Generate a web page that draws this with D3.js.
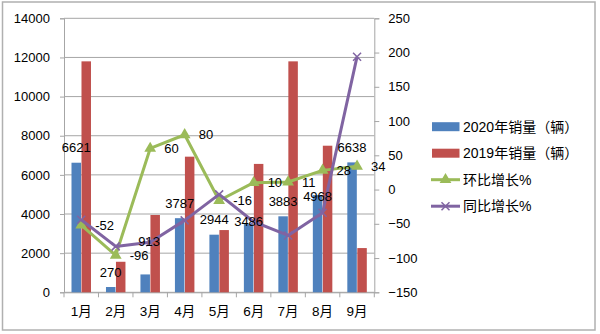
<!DOCTYPE html>
<html><head><meta charset="utf-8">
<script src="https://cdn.jsdelivr.net/npm/d3@7"></script>
<style>
html,body{margin:0;padding:0;background:#fff;}
svg{display:block;font-family:"Liberation Sans","Noto Sans CJK SC",sans-serif;}
</style></head>
<body>
<svg id="c" width="600" height="334"></svg>
<script>
const categories = ["1月","2月","3月","4月","5月","6月","7月","8月","9月"];
const sales2020 = [6621, 270, 913, 3787, 2944, 3486, 3883, 4968, 6638];
const sales2019 = [11800, 1560, 3950, 6930, 3180, 6560, 11800, 7490, 2260];
const momGrowth = [-52, -96, 60, 80, -16, 10, 11, 28, 34];
const yoyGrowth = [-44, -83, -77, -45, -7, -47, -67, -34, 194];
const leftTicks = [0, 2000, 4000, 6000, 8000, 10000, 12000, 14000];
const rightTicks = [-150, -100, -50, 0, 50, 100, 150, 200, 250];
const seriesNames = ["2020年销量（辆）", "2019年销量（辆）", "环比增长%", "同比增长%"];

const colors = ["#4F81BD", "#C0504D", "#9BBB59", "#8064A2"];
const gridColor = "#a6a6a6";
const svg = d3.select("#c");

// outer border
svg.append("rect").attr("x", 2.5).attr("y", 2).attr("width", 592.5).attr("height", 328)
  .attr("fill", "none").attr("stroke", "#b0b0b0").attr("stroke-width", 1.5);

const L = 64, R = 374.3, T = 18.3, B = 292.3;
const x = d3.scaleBand().domain(categories).range([L, R]).padding(0);
const xs = d3.scaleBand().domain(["a", "b"]).range([0, x.bandwidth()]).paddingInner(0.05).paddingOuter(0.75);
const yL = d3.scaleLinear().domain([0, 14000]).range([B, T]);
const yR = d3.scaleLinear().domain([-150, 250]).range([B, T]);

// gridlines
svg.append("g").selectAll("line").data(leftTicks).join("line")
  .attr("x1", L).attr("x2", R).attr("y1", d => yL(d)).attr("y2", d => yL(d))
  .attr("stroke", gridColor).attr("stroke-width", 1);

// axes
const ax = svg.append("g").attr("transform", `translate(${L},0)`)
  .call(d3.axisLeft(yL).tickValues(leftTicks).tickSize(4).tickPadding(10).tickFormat(d3.format("d")));
const ar = svg.append("g").attr("transform", `translate(${R},0)`)
  .call(d3.axisRight(yR).tickValues(rightTicks).tickSize(5).tickPadding(9).tickFormat(d3.format("d")));
const ab = svg.append("g").attr("transform", `translate(0,${B})`)
  .call(d3.axisBottom(x).tickSize(0).tickPadding(19));
[ax, ar, ab].forEach(g => {
  g.attr("font-family", null).attr("font-size", null);
  g.selectAll("path.domain").attr("stroke", gridColor);
  g.selectAll(".tick line").attr("stroke", gridColor);
  g.selectAll("text").attr("font-size", 13).attr("fill", "#000");
});
ab.selectAll("text").attr("dy", "0.32em").attr("font-size", 13.5);
// category boundary ticks on x axis
const bounds = categories.map(c => x(c)).concat([R]);
svg.append("g").selectAll("line").data(bounds).join("line")
  .attr("x1", d => d).attr("x2", d => d).attr("y1", B).attr("y2", B + 5)
  .attr("stroke", gridColor);

// bars
const bars = svg.append("g");
bars.selectAll("rect.b20").data(sales2020).join("rect").attr("class", "b20")
  .attr("x", (d, i) => x(categories[i]) + xs("a")).attr("width", xs.bandwidth())
  .attr("y", d => yL(d)).attr("height", d => B - yL(d)).attr("fill", colors[0]);
bars.selectAll("rect.b19").data(sales2019).join("rect").attr("class", "b19")
  .attr("x", (d, i) => x(categories[i]) + xs("b")).attr("width", xs.bandwidth())
  .attr("y", d => yL(d)).attr("height", d => B - yL(d)).attr("fill", colors[1]);

const cx = i => x(categories[i]) + x.bandwidth() / 2;
const line = d3.line().x((d, i) => cx(i)).y(d => yR(d));

// 环比 line
svg.append("path").datum(momGrowth).attr("d", line).attr("fill", "none")
  .attr("stroke", colors[2]).attr("stroke-width", 3).attr("stroke-linejoin", "round");
svg.append("g").selectAll("path").data(momGrowth).join("path")
  .attr("d", d3.symbol(d3.symbolTriangle, 60)())
  .attr("transform", (d, i) => `translate(${cx(i)},${yR(d)})`).attr("fill", colors[2]);

// 同比 line
svg.append("path").datum(yoyGrowth).attr("d", line).attr("fill", "none")
  .attr("stroke", colors[3]).attr("stroke-width", 3).attr("stroke-linejoin", "round");
const xMark = "M-4,-4L4,4M-4,4L4,-4";
svg.append("g").selectAll("path").data(yoyGrowth).join("path")
  .attr("d", xMark).attr("transform", (d, i) => `translate(${cx(i)},${yR(d)})`)
  .attr("stroke", colors[3]).attr("stroke-width", 1.5).attr("fill", "none");

// labels for 2020 bars (with small manual nudges like the original)
const nudgeDy = [0, 0, -18, 0, 0, 12, 0, 16, 0];
const nudgeDx = [0, 0, 4, 0, 0, 0, 0, 0, 0];
svg.append("g").selectAll("text").data(sales2020).join("text")
  .attr("x", (d, i) => x(categories[i]) + xs("a") + xs.bandwidth() / 2 + nudgeDx[i])
  .attr("y", (d, i) => yL(d) - 15 + nudgeDy[i])
  .attr("dy", "0.35em").attr("text-anchor", "middle").attr("font-size", 13).attr("fill", "#000")
  .text(d => d);
// labels for 环比
svg.append("g").selectAll("text").data(momGrowth).join("text")
  .attr("x", (d, i) => cx(i) + 14).attr("y", d => yR(d))
  .attr("dy", "0.35em").attr("font-size", 13).attr("fill", "#000").text(d => d);

// legend
const lg = svg.append("g");
seriesNames.forEach((name, i) => {
  const y = 126.7 + i * 26.5;
  if (i < 2) {
    lg.append("rect").attr("x", 432).attr("y", y - 4.5).attr("width", 27.5).attr("height", 9).attr("fill", colors[i]);
  } else {
    lg.append("line").attr("x1", 431).attr("x2", 460).attr("y1", y).attr("y2", y)
      .attr("stroke", colors[i]).attr("stroke-width", 3);
    if (i === 2) {
      lg.append("path").attr("d", d3.symbol(d3.symbolTriangle, 60)()).attr("transform", `translate(445.5,${y})`).attr("fill", colors[i]);
    } else {
      lg.append("path").attr("d", xMark).attr("transform", `translate(445.5,${y})`)
        .attr("stroke", colors[i]).attr("stroke-width", 1.5).attr("fill", "none");
    }
  }
  lg.append("text").attr("x", 463).attr("y", y).attr("dy", "0.35em")
    .attr("font-size", 14).attr("fill", "#000").text(name);
});
</script>
</body></html>
